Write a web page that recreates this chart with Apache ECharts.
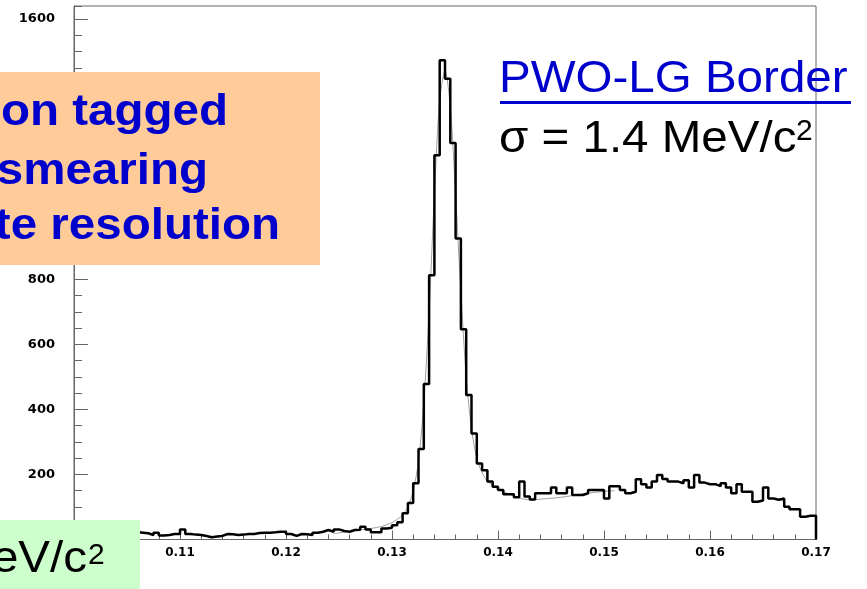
<!DOCTYPE html>
<html>
<head>
<meta charset="utf-8">
<script src="https://cdn.jsdelivr.net/npm/echarts@6/dist/echarts.min.js"></script>
<style>
  html, body { margin: 0; padding: 0; background: #ffffff; }
  #chart { width: 867px; height: 589px; }
</style>
</head>
<body>
<div id="chart"></div>
<script>
// Two-photon invariant mass, 140 bins of 0.5 MeV/c^2 from 0.100 to 0.170 GeV/c^2
const binLow = 0.100;
const binHigh = 0.170;
const binWidth = 0.0005;

const counts = [
  25, 22, 28, 20, 24, 18, 26, 22, 20, 25, 19, 23, 21,
  19, 14, 21, 12, 14, 17, 17, 31, 17, 15, 14, 11, 7, 9, 11, 17,
  16, 14, 15, 17, 17, 20, 21, 21, 22, 24, 24, 17, 11, 17, 16, 14,
  21, 24, 29, 24, 31, 26, 24, 29, 30, 39, 31, 22, 22, 34, 36, 44,
  53, 81, 112, 173, 278, 478, 812, 1181, 1473, 1416, 1219, 925, 646, 444,
  326, 234, 213, 178, 162, 152, 139, 139, 130, 178, 132, 123, 142, 142,
  142, 160, 142, 142, 160, 137, 137, 142, 152, 152, 152, 126, 164, 164,
  152, 142, 147, 185, 170, 160, 178, 198, 186, 178, 178, 173, 182, 160,
  198, 175, 170, 170, 164, 173, 160, 142, 170, 147, 147, 116, 120, 160,
  126, 122, 126, 101, 93, 93, 70, 73, 73
];

// Fitted peak + background curve (thin grey line under the histogram)
const fitMass = [
  0.1245, 0.1260, 0.1280, 0.1290, 0.1300, 0.1310, 0.1315, 0.1320, 0.1325, 0.1330,
  0.1335, 0.1340, 0.1345, 0.1350, 0.1355, 0.1360, 0.1365, 0.1370, 0.1375, 0.1380,
  0.1385, 0.1390, 0.1400, 0.1410, 0.1420, 0.1430, 0.1440, 0.1460, 0.1480, 0.1500,
  0.1510
];
const fitCounts = [
  18, 25, 34, 40, 52, 75, 100, 150, 240, 420,
  700, 1060, 1350, 1440, 1330, 1060, 760, 500, 340, 250,
  205, 180, 155, 140, 128, 122, 124, 130, 140, 148,
  150
];

const yMax = 1640;
const yMajor = 200;
const yMinor = 50;
const xMajor = 0.01;

// Histogram outline: bin left edges with step 'end', closed down to zero at both ends
const histLine = [[binLow, 0]];
counts.forEach(function (c, i) { histLine.push([binLow + i * binWidth, c]); });
histLine.push([binHigh, counts[counts.length - 1]]);
histLine.push([binHigh, 0]);

const fitLine = fitMass.map(function (m, i) { return [m, fitCounts[i]]; });

const frameColor = '#666666';
const labelFont = 'DejaVu Sans';
const textFont = '"Liberation Sans", Arial, sans-serif';

const chart = echarts.init(document.getElementById('chart'), null, { renderer: 'canvas' });

chart.setOption({
  animation: false,
  backgroundColor: '#ffffff',
  grid: {
    left: 74, right: 51, top: 6, bottom: 49.5,
    show: true, borderColor: frameColor, borderWidth: 1, backgroundColor: 'transparent'
  },
  xAxis: {
    type: 'value',
    min: binLow, max: binHigh, interval: xMajor,
    axisLine: { show: true, onZero: false, lineStyle: { color: frameColor, width: 1 } },
    axisTick: { show: true, inside: true, length: 9, lineStyle: { color: frameColor } },
    minorTick: { show: true, splitNumber: 5, length: 5, lineStyle: { color: frameColor } },
    splitLine: { show: false },
    axisLabel: {
      margin: 7, color: '#000', fontFamily: labelFont, fontWeight: 'bold', fontSize: 12,
      formatter: function (v) { return v.toFixed(2); }
    }
  },
  yAxis: [
    {
      type: 'value', min: 0, max: yMax, interval: yMajor,
      axisLine: { show: true, lineStyle: { color: frameColor, width: 1 } },
      axisTick: { show: true, inside: true, length: 14, lineStyle: { color: frameColor } },
      splitLine: { show: false },
      axisLabel: {
        showMaxLabel: false, margin: 19, color: '#000',
        fontFamily: labelFont, fontWeight: 'bold', fontSize: 13,
        formatter: function (v) { return String(Math.round(v)); }
      }
    },
    {
      type: 'value', min: 0, max: yMax, interval: yMinor, position: 'left',
      axisLine: { show: false },
      axisTick: { show: true, inside: true, length: 8, lineStyle: { color: frameColor } },
      splitLine: { show: false },
      axisLabel: { show: false }
    }
  ],
  series: [
    {
      name: 'fit', type: 'line', data: fitLine, smooth: 0.3,
      symbol: 'none', silent: true, z: 2,
      lineStyle: { color: '#a0a0a0', width: 1 }
    },
    {
      name: 'counts', type: 'line', data: histLine, step: 'end',
      symbol: 'none', silent: true, z: 3,
      lineStyle: { color: '#000000', width: 2.5 }
    }
  ],
  graphic: [
    {
      type: 'rect', z: 100,
      shape: { x: -10, y: 72, width: 330, height: 193 },
      style: { fill: '#FFCC99' }
    },
    {
      type: 'text', z: 101, x: 228, y: 113, scaleX: 1.08,
      style: { text: 'on tagged', font: 'bold 44px ' + textFont, fill: '#0000CC', align: 'right', verticalAlign: 'middle' }
    },
    {
      type: 'text', z: 101, x: 208, y: 171.5, scaleX: 1.08,
      style: { text: 'smearing', font: 'bold 44px ' + textFont, fill: '#0000CC', align: 'right', verticalAlign: 'middle' }
    },
    {
      type: 'text', z: 101, x: 280, y: 226.5, scaleX: 1.08,
      style: { text: 'te resolution', font: 'bold 44px ' + textFont, fill: '#0000CC', align: 'right', verticalAlign: 'middle' }
    },
    {
      type: 'text', z: 101, x: 499, y: 79.8, scaleX: 1.08,
      style: { text: 'PWO-LG Border', font: '44px ' + textFont, fill: '#0000CC', align: 'left', verticalAlign: 'middle' }
    },
    {
      type: 'rect', z: 101,
      shape: { x: 500, y: 101, width: 351, height: 3 },
      style: { fill: '#0000CC' }
    },
    {
      type: 'text', z: 101, x: 499, y: 139.8, scaleX: 1.08,
      style: { text: 'σ = 1.4 MeV/c', font: '44px ' + textFont, fill: '#000000', align: 'left', verticalAlign: 'middle' }
    },
    {
      type: 'text', z: 101, x: 796, y: 131.3,
      style: { text: '2', font: '30px ' + textFont, fill: '#000000', align: 'left', verticalAlign: 'middle' }
    },
    {
      type: 'rect', z: 100,
      shape: { x: -10, y: 520, width: 150, height: 80 },
      style: { fill: '#CCFFCC' }
    },
    {
      type: 'text', z: 101, x: 87, y: 559.8, scaleX: 1.08,
      style: { text: 'eV/c', font: '44px ' + textFont, fill: '#000000', align: 'right', verticalAlign: 'middle' }
    },
    {
      type: 'text', z: 101, x: 88, y: 555.6,
      style: { text: '2', font: '30px ' + textFont, fill: '#000000', align: 'left', verticalAlign: 'middle' }
    }
  ]
});
</script>
</body>
</html>
